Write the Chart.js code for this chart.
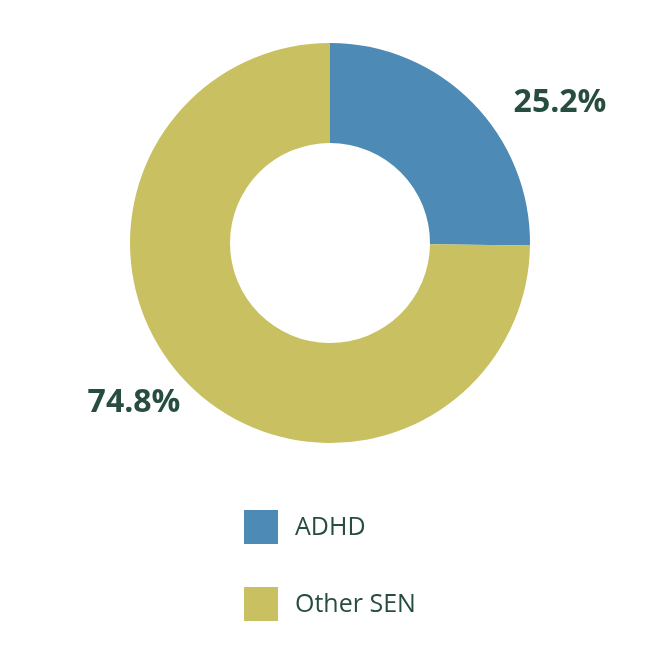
<!DOCTYPE html>
<html><head><meta charset="utf-8">
<script src="https://cdn.jsdelivr.net/npm/chart.js@4"></script>
<style>html,body{margin:0;padding:0;background:#fff}#w{width:657px;height:657px}</style>
</head><body><div id="w"><canvas id="c"></canvas></div>
<script>
const categories = ["ADHD", "Other SEN"];
const values = [25.2, 74.8];
const labels = ["25.2%", "74.8%"];
const colors = ["#4d8ab5", "#c9c062"];
const textColor = "#264d3d";

const overlay = {
  id: 'overlay',
  afterDraw(chart) {
    const ctx = chart.ctx;
    const arc = chart.getDatasetMeta(0).data[0];
    const cx = arc.x, cy = arc.y, R = arc.outerRadius;
    ctx.save();
    ctx.fillStyle = textColor;
    ctx.font = 'bold 32px "Open Sans", sans-serif';
    ctx.textAlign = 'center'; ctx.textBaseline = 'middle';
    ctx.fillText(labels[0], cx + R * 1.15, cy - R * 0.7);
    ctx.fillText(labels[1], cx - R * 0.98, cy + R * 0.8);
    ctx.font = '25px "Open Sans", sans-serif';
    ctx.textAlign = 'left';
    categories.forEach((c, i) => {
      const y = 510 + i * 77;
      ctx.fillStyle = colors[i];
      ctx.fillRect(244, y, 34, 34);
      ctx.fillStyle = textColor;
      ctx.fillText(c, 295, y + 18);
    });
    ctx.restore();
  }
};

new Chart(document.getElementById('c'), {
  type: 'doughnut',
  data: { labels: categories, datasets: [{ data: values, backgroundColor: colors, borderWidth: 0 }] },
  options: {
    responsive: true, maintainAspectRatio: false, animation: false, cutout: '50%',
    layout: { padding: { top: 43, bottom: 214, left: 130, right: 127 } },
    plugins: { legend: { display: false }, tooltip: { enabled: false } }
  },
  plugins: [overlay]
});
</script></body></html>
